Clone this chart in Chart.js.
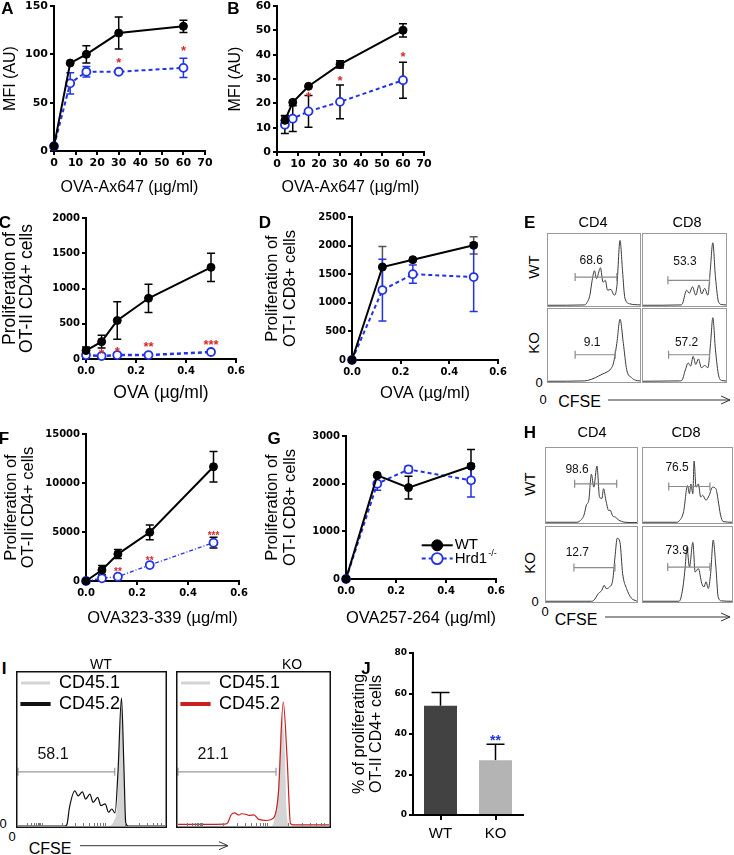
<!DOCTYPE html>
<html>
<head>
<meta charset="utf-8">
<script src="https://cdn.jsdelivr.net/npm/chart.js@4.4.1/dist/chart.umd.min.js"></script>
<style>
  body { margin: 0; width: 734px; height: 855px; position: relative; background: #fff; overflow: hidden;
         font-family: 'Liberation Sans', Arial, sans-serif; }
  canvas { position: absolute; }
  .t { position: absolute; white-space: nowrap; line-height: 1; color: #000; }
</style>
</head>
<body>
<script>
// ---- A: OVA-Ax647 uptake ----
const aDose = [0, 7.5, 15, 30, 60];
const aWt = [5, 91, 100, 122, 129];
const aWtErr = [0, 0, 9, 16.5, 6.3];
const aKo = [5, 70, 82, 82, 86];
const aKoErr = [0, 11, 5.5, 0, 10];
const aStars = [[30, 93.5, '*'], [60, 106, '*']];

// ---- B ----
const bDose = [3.75, 7.5, 15, 30, 60];
const bWt = [13, 20.4, 27, 36, 50];
const bWtErr = [2, 0, 0, 1.5, 2.7];
const bKo = [11.2, 13.7, 16.7, 20.6, 29.5];
const bKoErr = [3.6, 5.3, 6.5, 6.9, 7.4];
const bStars = [[15, 23.6, '*'], [30, 30.5, '*'], [60, 40, '*']];

// ---- C: OT-II CD4, OVA ----
const cDose = [0, 0.0625, 0.125, 0.25, 0.5];
const cWt = [120, 246, 546, 861, 1300];
const cWtErr = [50, 90, 265, 200, 200];
const cKo = [56, 42, 56, 56, 99];
const cStars = [[0.0625, 104, '*'], [0.125, 133, '*'], [0.25, 217, '**'], [0.5, 240, '***']];

// ---- D: OT-I CD8, OVA ----
const dDose = [0, 0.125, 0.25, 0.5];
const dWt = [0, 1626, 1754, 2005];
const dWtErr = [0, 360, 0, 150];
const dKo = [0, 1222, 1500, 1450];
const dKoErr = [0, 540, 160, 600];

// ---- F: OT-II CD4, OVA323-339 ----
const fDose = [0, 0.0625, 0.125, 0.25, 0.5];
const fWt = [0, 1120, 2750, 4970, 11660];
const fWtErr = [0, 450, 460, 750, 1550];
const fKo = [0, 275, 440, 1630, 3910];
const fKoErr = [0, 0, 0, 0, 550];
const fStars = [[0.125, 1120, '**'], [0.25, 2300, '**'], [0.5, 4850, '***']];

// ---- G: OT-I CD8, OVA257-264 ----
const gDose = [0, 0.125, 0.25, 0.5];
const gWt = [0, 2174, 1917, 2366];
const gWtErr = [0, 0, 240, 350];
const gKo = [0, 2000, 2298, 2070];
const gKoErr = [0, 140, 70, 350];

// ---- J ----
const jGroups = ['WT', 'KO'];
const jPct = [54, 27];
const jErr = [6.5, 8];
const jStars = [[1, 38.4, '**']];

// ---- CFSE histograms: [CFSE position %, count % of box] ----
const eWtCd4 = [[0,1],[40,1.5],[42,4],[45.5,15],[48,35.7],[50.5,49],[52.7,38],[57,53],[59.8,33],[62.3,35.7],[64.7,22],[68.4,23],[71.9,15],[74.8,26.6],[78.3,91],[81,49],[83.6,10.9],[88.9,3],[100,1.5]];
const eWtCd8 = [[0,1],[46,1.5],[47.8,4],[52.6,22],[55.7,17.7],[59.7,26.6],[63.6,15],[67.5,29],[70.7,16.7],[74.3,24.5],[78.2,15],[81,49],[84.1,87.8],[87.3,40],[91.2,5],[95,2],[100,1.5]];
const eKoCd4 = [[0,1],[40,1.5],[42.7,2],[51.6,6],[58.8,10.7],[64.1,13.7],[68.4,18.2],[71.2,26],[74.8,52.9],[78.3,86],[81.9,53],[85.5,17],[90.8,6],[95,2.5],[100,1.5]];
const eKoCd8 = [[0,1],[44,1.5],[46.7,2],[50.6,15],[54.5,26],[57.3,21.8],[60.4,35],[63.6,24],[66.8,31.6],[70.4,19.6],[74.3,22.6],[78.2,19.6],[81.4,53],[84.1,88],[87.3,44],[91.2,8.4],[95,2],[100,1.5]];
const eGates = [[29.5, 74.8, 40.2], [30, 80.2, 35.7], [29.5, 73, 37.3], [30.8, 80.2, 37.3]];
const eGatePct = ['68.6', '53.3', '9.1', '57.2'];

const hWtCd4 = [[0,1],[34,1],[36.4,2],[41.8,10.8],[44.4,24],[47,30.4],[49.9,65],[52.5,47.8],[56,76],[58.8,34.7],[61.4,32.6],[63.2,45.7],[65.8,30.4],[68.9,16.5],[70.4,17.4],[73.3,9.5],[76.3,7.8],[79.5,4.3],[86.7,1],[100,0.5]];
const hWtCd8 = [[0,1],[38,1],[40,2],[45.6,15],[50,50],[52.2,39],[53.8,52],[56,39],[57.4,82.6],[59.6,47.8],[62.2,52],[64.8,34.7],[67.1,37],[70.8,30.4],[74.4,37],[78.2,47.8],[81.9,45.7],[84.4,30.4],[87.1,10.8],[90,2],[100,1]];
const hKoCd4 = [[0,1],[50,1],[52.3,2],[57.7,11.4],[61.4,15.7],[63.9,22.3],[66.1,17.9],[69.7,20],[73.3,29],[75.8,59.7],[78.3,85],[81.3,79.4],[84.2,38],[88.5,18],[93.9,5],[99.3,1.5],[100,1]];
const hKoCd8 = [[0,1],[40,1],[41.9,3],[44.9,20],[47.4,46.6],[49.3,72.9],[52.2,46.6],[56,79.4],[58.6,40],[62.2,44.6],[66,24.9],[68.6,20],[70.8,27],[73.3,18],[76,38],[78.9,82.6],[81.9,46.6],[84.4,7.3],[88.2,1.5],[100,1]];
const hGates = [[31.5, 77.7, 52.2], [28.9, 75.2, 48.7], [30.7, 75.8, 45.9], [27.8, 75.2, 46.6]];
const hGatePct = ['98.6', '76.5', '12.7', '73.9'];

const iWtCd451 = [[0,0],[61.5,0],[65,3],[67.5,15],[69,55],[70.4,78],[71.5,55],[72.7,10],[74.5,0],[100,0]];
const iWtCd452 = [[0,0],[32,0],[33.3,1],[35,12],[38.7,22.9],[40.9,19.7],[43.8,22.3],[46,17.6],[48.9,20.8],[51.1,15.5],[54.2,18.7],[56.4,13.3],[59.3,14.4],[61.6,9],[63.8,11.1],[66,8.6],[68,35],[70.4,83.7],[72,40],[73.3,2],[75,0],[100,0]];
const iKoCd451 = [[0,0],[61.5,0],[63.5,3],[66,20],[68.6,72],[70.5,55],[72.3,5],[74,0],[100,0]];
const iKoCd452 = [[0,1],[31,1.2],[32.9,2],[35,7],[37.2,8.6],[40.5,7.2],[42,8],[44.8,7.7],[47,6.9],[50.2,7.3],[53.5,4.3],[58.9,3.6],[63.2,5.1],[66.5,21.5],[69.7,80.9],[72.3,43.4],[74.5,1.5],[76,0.8],[100,0.8]];
const iGates = [[0, 65.8, 35.4], [0, 64.9, 35.4]];
const iGatePct = ['58.1', '21.1'];
// minor CFSE ticks along the bottom of the I boxes
const iMinorTicks = [6, 9, 11, 12.5, 13.5, 14.5, 15.3, 16, 30, 39, 44.5, 48.5, 51.5, 54, 56, 57.8, 59.2, 73, 82, 87.5, 91.5, 94.5, 97];

const SANS = "'Liberation Sans'";
const TICK = "'DejaVu Sans'";
const BLUE = '#2233e6';
const RED = '#d42a2a';

Chart.defaults.animation = false;
Chart.defaults.responsive = false;
Chart.defaults.devicePixelRatio = 1;
Chart.defaults.font.family = SANS;
Chart.defaults.color = '#000';
Chart.defaults.plugins.legend.display = false;
Chart.defaults.plugins.tooltip.enabled = false;

function makeCanvas(l, t, w, h) {
  const c = document.createElement('canvas');
  c.width = w; c.height = h;
  c.style.left = l + 'px'; c.style.top = t + 'px';
  c.style.width = w + 'px'; c.style.height = h + 'px';
  document.body.appendChild(c);
  return c;
}

function txt(s, cx, cy, size, extra, rot) {
  const d = document.createElement('div');
  d.className = 't';
  d.innerHTML = s;
  d.style.left = cx + 'px';
  d.style.top = cy + 'px';
  d.style.fontSize = size + 'px';
  d.style.transform = 'translate(-50%,-50%)' + (rot ? ' rotate(-90deg)' : '');
  if (extra) d.style.cssText += extra;
  document.body.appendChild(d);
}

function arrow(x1, x2, y) {
  document.body.insertAdjacentHTML('beforeend',
    `<svg style="position:absolute;left:0;top:0;overflow:visible" width="1" height="1">
      <path d="M${x1} ${y}H${x2}M${x2 - 9} ${y - 4}L${x2} ${y}L${x2 - 9} ${y + 4}" stroke="#333" fill="none" stroke-width="1"/></svg>`);
}

// error bars through the y scale
const errorBars = {
  id: 'errorBars',
  beforeDatasetsDraw(chart) {
    const ctx = chart.ctx, ys = chart.scales.y;
    chart.data.datasets.forEach((ds, i) => {
      if (!ds.errors) return;
      const meta = chart.getDatasetMeta(i);
      ctx.save();
      ctx.strokeStyle = ds.errorColor || ds.borderColor;
      ctx.lineWidth = 1.5;
      meta.data.forEach((el, j) => {
        const e = ds.errors[j];
        if (!e) return;
        const p = ds.data[j];
        const v = typeof p === 'object' ? p.y : p;
        const cap = ds.capHalf || 4;
        const top = ys.getPixelForValue(v + e);
        const bot = ds.upOnly ? el.y : ys.getPixelForValue(v - e);
        ctx.beginPath();
        ctx.moveTo(el.x, top); ctx.lineTo(el.x, bot);
        ctx.moveTo(el.x - cap, top); ctx.lineTo(el.x + cap, top);
        if (!ds.upOnly) { ctx.moveTo(el.x - cap, bot); ctx.lineTo(el.x + cap, bot); }
        ctx.stroke();
      });
      ctx.restore();
    });
  }
};

function starMarks(items, color, size) {
  return {
    id: 'stars',
    afterDatasetsDraw(chart) {
      const { ctx, scales: { x, y } } = chart;
      ctx.save();
      ctx.fillStyle = color;
      ctx.font = `bold ${size}px ${SANS}`;
      ctx.textAlign = 'center';
      ctx.textBaseline = 'middle';
      items.forEach(([sx, sy, t]) => ctx.fillText(t, x.getPixelForValue(sx), y.getPixelForValue(sy) + size * 0.25));
      ctx.restore();
    }
  };
}

function linAxis(min, max, step, o) {
  return {
    type: 'linear', min, max,
    ticks: { stepSize: step, color: '#000', padding: 2, autoSkip: false, maxRotation: 0,
             font: { family: TICK, weight: 'bold', size: o.tick }, callback: o.fmt || (v => v) },
    border: { display: true, color: '#000', width: 2 },
    grid: { display: true, drawOnChartArea: false, drawTicks: true, tickLength: 4, color: '#000', lineWidth: 2 },
    title: { display: true, text: o.title, color: '#000',
             font: { family: SANS, size: o.size, lineHeight: o.lh || 1.15 }, padding: o.pad },
    afterFit: s => { o.fit(s); s.paddingLeft = s.paddingRight = s.paddingTop = s.paddingBottom = 0; }
  };
}

const WT_STYLE = { label: 'WT', borderColor: '#000', backgroundColor: '#000', borderWidth: 2, pointRadius: 4,
  pointBackgroundColor: '#000', pointBorderColor: '#000', pointBorderWidth: 1, errorColor: '#000' };
const KO_STYLE = { label: 'Hrd1', borderColor: BLUE, backgroundColor: BLUE, borderWidth: 2, borderDash: [4, 3], pointRadius: 4,
  pointBackgroundColor: '#fff', pointBorderColor: BLUE, pointBorderWidth: 1.8, errorColor: BLUE };

function series(xs, ys, errs, style, extra) {
  return Object.assign({ data: xs.map((x, i) => ({ x, y: ys[i] })), errors: errs, clip: false, tension: 0 }, style, extra || {});
}

function doseChart(o) {
  const [L, T, W, H] = o.box, [al, at, ar, ab] = o.area;
  const dec = v => v.toFixed(1);
  return new Chart(makeCanvas(L, T, W, H), {
    type: 'line',
    data: { datasets: o.sets },
    options: {
      layout: { padding: { left: 0, top: at - T, right: L + W - ar, bottom: 0 } },
      scales: {
        x: linAxis(o.x[0], o.x[1], o.x[2], { tick: o.tick, fmt: o.x[2] < 1 ? dec : null, title: o.xTitle, size: o.size,
             pad: { top: 0, bottom: o.xpad }, fit: s => { s.height = T + H - ab; } }),
        y: linAxis(o.y[0], o.y[1], o.y[2], { tick: o.tick, title: o.yTitle, size: o.size, lh: o.ylh,
             pad: { top: o.ypad, bottom: 0 }, fit: s => { s.width = al - L; } })
      }
    },
    plugins: [errorBars, starMarks(o.stars || [], RED, o.starSize || 13)].concat(o.plugins || [])
  });
}

// legend with line + marker, like the reference's panel G
function lineLegend(dx, dy, gap) {
  return {
    id: 'lineLegend',
    afterDraw(chart) {
      const ctx = chart.ctx, a = chart.chartArea;
      chart.data.datasets.forEach((ds, i) => {
        const x0 = a.left + dx, y = a.top + dy + i * gap;
        ctx.save();
        ctx.strokeStyle = ds.borderColor; ctx.lineWidth = ds.borderWidth;
        ctx.setLineDash(ds.borderDash || []);
        ctx.beginPath(); ctx.moveTo(x0, y); ctx.lineTo(x0 + 31, y); ctx.stroke();
        ctx.setLineDash([]);
        ctx.beginPath(); ctx.arc(x0 + 15.5, y, 5.5, 0, Math.PI * 2);
        ctx.fillStyle = ds.pointBackgroundColor; ctx.fill();
        ctx.lineWidth = ds.pointBorderWidth; ctx.strokeStyle = ds.pointBorderColor; ctx.stroke();
        ctx.fillStyle = '#000'; ctx.font = `15px ${SANS}`; ctx.textBaseline = 'middle'; ctx.textAlign = 'left';
        ctx.fillText(ds.label, x0 + 33, y);
        if (ds.sup) {
          const w = ctx.measureText(ds.label).width;
          ctx.font = `9px ${SANS}`;
          ctx.fillText(ds.sup, x0 + 34 + w, y - 5);
        }
        ctx.restore();
      });
    }
  };
}

// ---------- dose-response panels ----------
doseChart({ box: [0, 0, 215, 200], area: [54, 6, 205, 151], x: [0, 70, 10], y: [0, 150, 50], tick: 11, size: 16,
  xTitle: 'OVA-Ax647 (\u00b5g/ml)', yTitle: 'MFI (AU)', xpad: 3, ypad: 1,
  sets: [series(aDose, aWt, aWtErr, WT_STYLE), series(aDose, aKo, aKoErr, KO_STYLE)], stars: aStars });

doseChart({ box: [222, 0, 212, 200], area: [277, 6, 424, 152], x: [0, 70, 10], y: [0, 60, 10], tick: 11, size: 16,
  xTitle: 'OVA-Ax647 (\u00b5g/ml)', yTitle: 'MFI (AU)', xpad: 3, ypad: 4.8,
  sets: [series(bDose, bWt, bWtErr, WT_STYLE), series(bDose, bKo, bKoErr, KO_STYLE, { errorColor: '#000' })], stars: bStars });

doseChart({ box: [0, 208, 250, 195], area: [86, 218, 236, 359], x: [0, 0.6, 0.2], y: [0, 2000, 500], tick: 10, size: 17.5, ylh: 0.97,
  xTitle: 'OVA (\u00b5g/ml)', yTitle: ['Proliferation of', 'OT-II CD4+ cells'], xpad: 0, ypad: 1.5,
  sets: [series(cDose, cWt, cWtErr, WT_STYLE), series(cDose, cKo, null, KO_STYLE, { borderWidth: 2.5 })], stars: cStars });

doseChart({ box: [262, 208, 245, 195], area: [352, 217, 498, 360], x: [0, 0.6, 0.2], y: [0, 2500, 500], tick: 10, size: 16.5, ylh: 1.115,
  xTitle: 'OVA (\u00b5g/ml)', yTitle: ['Proliferation of', 'OT-I CD8+ cells'], xpad: 0.2, ypad: 1.1,
  sets: [series(dDose, dWt, dWtErr, WT_STYLE, { errorColor: '#555' }), series(dDose, dKo, dKoErr, KO_STYLE)] });

doseChart({ box: [0, 425, 250, 203], area: [86, 434, 239, 581], x: [0, 0.6, 0.2], y: [0, 15000, 5000], tick: 10, size: 16.5, ylh: 1.0,
  xTitle: 'OVA323-339 (\u00b5g/ml)', yTitle: ['Proliferation of', 'OT-II CD4+ cells'], xpad: 0.2, ypad: 3.4, starSize: 10,
  sets: [series(fDose, fWt, fWtErr, WT_STYLE),
         series(fDose, fKo, fKoErr, KO_STYLE, { borderWidth: 1.3, borderDash: [4, 2, 1, 2], errorColor: '#000' })],
  stars: fStars });

doseChart({ box: [258, 425, 248, 203], area: [346, 436, 496, 579], x: [0, 0.6, 0.2], y: [0, 3000, 1000], tick: 10, size: 16.5, ylh: 1.11,
  xTitle: 'OVA257-264 (\u00b5g/ml)', yTitle: ['Proliferation of', 'OT-I CD8+ cells'], xpad: 0.5, ypad: 5.3,
  sets: [series(gDose, gWt, gWtErr, WT_STYLE), series(gDose, gKo, gKoErr, KO_STYLE, { sup: '-/-' })],
  plugins: [lineLegend(75.7, 109.3, 13.3)] });

// ---------- J bar chart ----------
new Chart(makeCanvas(345, 645, 190, 210), {
  type: 'bar',
  data: { labels: jGroups, datasets: [{ data: jPct, errors: jErr, upOnly: true, errorColor: '#000', capHalf: 9,
    backgroundColor: ['#424242', '#b4b4b4'], barPercentage: 0.6, categoryPercentage: 1 }] },
  options: {
    layout: { padding: { left: 0, top: 8, right: 12, bottom: 0 } },
    scales: {
      x: { type: 'category', offset: true,
           grid: { display: true, offset: false, drawOnChartArea: false, drawTicks: true, tickLength: 5, color: '#000', lineWidth: 2 },
           border: { display: true, color: '#000', width: 2 },
           ticks: { color: '#000', padding: 5, font: { family: SANS, size: 15 } },
           afterFit: s => { s.height = 855 - 815; s.paddingLeft = s.paddingRight = s.paddingTop = s.paddingBottom = 0; } },
      y: linAxis(0, 80, 20, { tick: 9, title: ['% of proliferating', 'OT-II CD4+ cells'], size: 16, lh: 1.05,
           pad: { top: 6.6, bottom: 0 }, fit: s => { s.width = 413 - 345; } })
    }
  },
  plugins: [errorBars, starMarks(jStars, BLUE, 14)]
});

// ---------- CFSE histograms ----------
function boxBorder(color, width) {
  return {
    id: 'boxBorder',
    afterDraw(chart) {
      const ctx = chart.ctx;
      ctx.save(); ctx.strokeStyle = color; ctx.lineWidth = width;
      ctx.strokeRect(width / 2, width / 2, chart.width - width, chart.height - width);
      ctx.restore();
    }
  };
}

function minorTicks(list, len, color) {
  return {
    id: 'minorTicks',
    afterDraw(chart) {
      const { ctx, chartArea: a, scales: { x } } = chart;
      ctx.save(); ctx.strokeStyle = color; ctx.lineWidth = 1;
      ctx.beginPath();
      list.forEach(v => { const px = Math.round(x.getPixelForValue(v)) + 0.5; ctx.moveTo(px, a.bottom); ctx.lineTo(px, a.bottom - len); });
      ctx.stroke(); ctx.restore();
    }
  };
}

function gateMark(g, text, dx, dy, size, color) {
  return {
    id: 'gate',
    afterDatasetsDraw(chart) {
      const { ctx, scales: { x, y } } = chart;
      const x1 = x.getPixelForValue(g[0]), x2 = x.getPixelForValue(g[1]), yy = y.getPixelForValue(g[2]);
      ctx.save();
      ctx.strokeStyle = color; ctx.lineWidth = 1.2;
      ctx.beginPath();
      ctx.moveTo(x1, yy); ctx.lineTo(x2, yy);
      ctx.moveTo(x1, yy - 4); ctx.lineTo(x1, yy + 4);
      ctx.moveTo(x2, yy - 4); ctx.lineTo(x2, yy + 4);
      ctx.stroke();
      ctx.fillStyle = '#111'; ctx.font = `${size}px ${SANS}`; ctx.textAlign = 'center'; ctx.textBaseline = 'middle';
      ctx.fillText(text, x1 + dx, yy - dy);
      ctx.restore();
    }
  };
}

function histo(box, curves, plugs, border, legend) {
  const [L, T, W, H] = box;
  const pad = Math.ceil(border[1]);
  return new Chart(makeCanvas(L, T, W, H), {
    type: 'line',
    data: { datasets: curves.map(c => ({ label: c.label, data: c.pts.map(p => ({ x: p[0], y: p[1] })),
      borderColor: c.color, borderWidth: c.width === undefined ? 1 : c.width, backgroundColor: c.bg || c.color,
      fill: c.fill ? 'origin' : false, pointRadius: 0, cubicInterpolationMode: 'monotone', order: c.order || 0 })) },
    options: {
      layout: { padding: pad },
      scales: { x: { type: 'linear', min: 0, max: 100, display: false }, y: { min: 0, max: 100, display: false } },
      plugins: { legend: legend || { display: false } }
    },
    plugins: plugs.concat([boxBorder(border[0], border[1])])
  });
}

const flowLine = '#3a3a3a';
const eBoxes = [[547, 233, 94, 74], [642, 233, 85, 74], [547, 308, 94, 75], [642, 308, 85, 75]];
const eOff = [[16, 16.7], [17, 18.3], [17, 11.7], [18, 11.7]];
[eWtCd4, eWtCd8, eKoCd4, eKoCd8].forEach((pts, i) =>
  histo(eBoxes[i], [{ pts, color: flowLine }], [gateMark(eGates[i], eGatePct[i], eOff[i][0], eOff[i][1], 12, '#8a8a8a')], ['#9a9a9a', 1]));

const hBoxes = [[545, 447, 93, 77], [642, 447, 91, 77], [545, 526, 93, 77], [642, 526, 91, 77]];
const hOff = [[2.4, 14.3], [8.4, 18.7], [3.4, 14.7], [9.4, 16.7]];
[hWtCd4, hWtCd8, hKoCd4, hKoCd8].forEach((pts, i) =>
  histo(hBoxes[i], [{ pts, color: flowLine }], [gateMark(hGates[i], hGatePct[i], hOff[i][0], hOff[i][1], 12, '#8a8a8a')], ['#9a9a9a', 1]));

const iLegend = { display: true, position: 'chartArea', align: 'start',
  labels: { font: { family: SANS, size: 18 }, color: '#000', boxWidth: 29, boxHeight: 3, padding: 3,
            sort: (a, b) => a.datasetIndex - b.datasetIndex } };
histo([16, 671, 151, 157], [
  { label: 'CD45.1', pts: iWtCd451, color: '#c9c9c9', bg: '#d4d4d4', width: 0, fill: true, order: 1 },
  { label: 'CD45.2', pts: iWtCd452, color: '#111', width: 1.2, order: 0 }
], [gateMark(iGates[0], iGatePct[0], 35, 17, 16, '#999'), minorTicks(iMinorTicks, 3, '#777')], ['#111', 1.5], iLegend);
histo([176, 671, 155, 157], [
  { label: 'CD45.1', pts: iKoCd451, color: '#c9c9c9', bg: '#d4d4d4', width: 0, fill: true, order: 1 },
  { label: 'CD45.2', pts: iKoCd452, color: '#cc1f1f', width: 1.2, order: 0 }
], [gateMark(iGates[1], iGatePct[1], 35, 17, 16, '#999'), minorTicks(iMinorTicks, 3, '#777')], ['#111', 1.5], iLegend);

// ---------- panel letters and flow annotations ----------
const B = 'font-weight:bold;';
[['A', 7.5, 7.5], ['B', 233.5, 7.5], ['C', 5, 221.7], ['D', 265, 221.7], ['E', 529.7, 221.7],
 ['F', 4, 438.3], ['G', 274, 438.3], ['H', 530, 432], ['I', 4, 668], ['J', 366, 668]]
  .forEach(([s, x, y]) => txt(s, x, y, 17, B));

txt('CD4', 593, 222, 14.5); txt('CD8', 687, 222, 14.5);
txt('WT', 533, 267, 15, '', true); txt('KO', 533, 343, 15, '', true);
txt('0', 539, 382, 13); txt('0', 543, 399, 13);
txt('CFSE', 579.5, 401.7, 16); arrow(608, 730, 400);

txt('CD4', 592, 432, 14.5); txt('CD8', 686, 432, 14.5);
txt('WT', 529, 484, 15, '', true); txt('KO', 529, 563, 15, '', true);
txt('0', 535, 600.7, 13); txt('0', 545, 610.7, 13);
txt('CFSE', 576, 620, 16); arrow(605, 730, 617);

txt('WT', 101, 664, 14); txt('KO', 292, 664, 14);
txt('0', 3, 823, 13); txt('0', 12, 835.7, 13);
txt('CFSE', 50, 849, 16); arrow(80, 228, 845.7);
</script>
</body>
</html>
